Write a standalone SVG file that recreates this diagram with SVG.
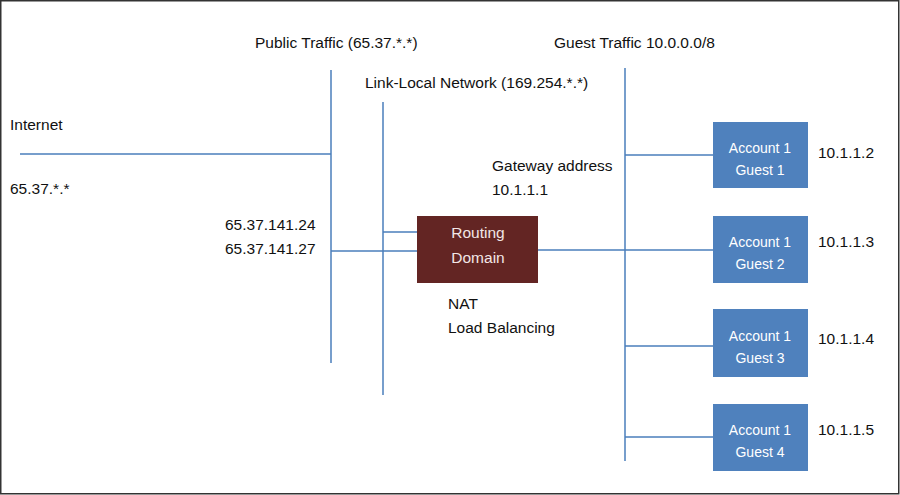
<svg xmlns="http://www.w3.org/2000/svg" width="900" height="495" viewBox="0 0 900 495">
<style>
text{font-family:"Liberation Sans",Arial,sans-serif;font-size:15.5px;fill:#111}
.ln{stroke:#4a7ebb;stroke-width:1.5;fill:none}
.guest{fill:#4f81bd}
.guest text{fill:#fff;text-anchor:middle;font-size:14px}
.rt text{fill:#f2e6e6;text-anchor:middle}
</style>
<rect x="0.75" y="0.75" width="898" height="493" fill="#fff" stroke="#333" stroke-width="1.5"/>
<g id="connectors">
<line class="ln" x1="331" y1="70" x2="331" y2="363"/>
<line class="ln" x1="383" y1="102" x2="383" y2="395"/>
<line class="ln" x1="625" y1="68" x2="625" y2="461"/>
<line class="ln" x1="20" y1="154" x2="331" y2="154"/>
<line class="ln" x1="331" y1="251" x2="417" y2="251"/>
<line class="ln" x1="383" y1="232" x2="417" y2="232"/>
<line class="ln" x1="538" y1="250" x2="625" y2="250"/>
<line class="ln" x1="625" y1="155" x2="713" y2="155"/>
<line class="ln" x1="625" y1="250" x2="713" y2="250"/>
<line class="ln" x1="625" y1="346" x2="713" y2="346"/>
<line class="ln" x1="625" y1="437" x2="713" y2="437"/>
</g>
<g id="labels">
<text x="255" y="48">Public Traffic (65.37.*.*)</text>
<text x="554" y="48">Guest Traffic 10.0.0.0/8</text>
<text x="365" y="88">Link-Local Network (169.254.*.*)</text>
<text x="10" y="130">Internet</text>
<text x="10" y="194">65.37.*.*</text>
<text x="225" y="230">65.37.141.24</text>
<text x="225" y="254">65.37.141.27</text>
<text x="492" y="171">Gateway address</text>
<text x="492" y="195">10.1.1.1</text>
<text x="448" y="309">NAT</text>
<text x="448" y="333">Load Balancing</text>
<text x="818" y="158">10.1.1.2</text>
<text x="818" y="247">10.1.1.3</text>
<text x="818" y="344">10.1.1.4</text>
<text x="818" y="435">10.1.1.5</text>
</g>
<g id="routing" class="rt">
<rect x="417" y="216" width="121" height="67" fill="#632523"/>
<text x="478" y="238">Routing</text>
<text x="478" y="263">Domain</text>
</g>
<g id="guest1" class="guest">
<rect x="713" y="122" width="95" height="66"/>
<text x="760" y="153">Account 1</text>
<text x="760" y="175">Guest 1</text>
</g>
<g id="guest2" class="guest">
<rect x="713" y="216" width="95" height="67"/>
<text x="760" y="247">Account 1</text>
<text x="760" y="269">Guest 2</text>
</g>
<g id="guest3" class="guest">
<rect x="713" y="309" width="95" height="68"/>
<text x="760" y="341">Account 1</text>
<text x="760" y="363">Guest 3</text>
</g>
<g id="guest4" class="guest">
<rect x="713" y="404" width="95" height="67"/>
<text x="760" y="435">Account 1</text>
<text x="760" y="457">Guest 4</text>
</g>
</svg>
